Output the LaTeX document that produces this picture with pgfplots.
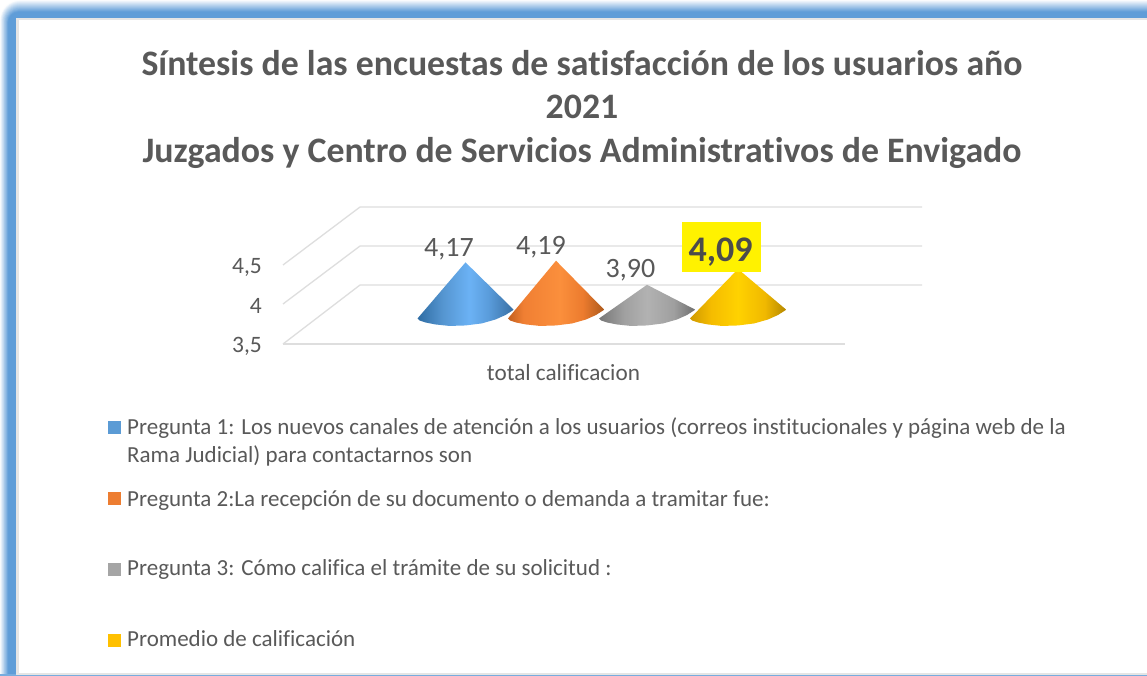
\documentclass[border=0pt]{standalone}
\usepackage{pgfplots}
\usepackage{fontspec}
\setmainfont[Ligatures=NoCommon]{Carlito}
\pgfplotsset{compat=1.18}
\definecolor{txt}{HTML}{595959}
\definecolor{framec}{HTML}{5F9DD8}
\definecolor{gridc}{HTML}{DEDEDE}
\definecolor{ba}{HTML}{2E6CA3}\definecolor{bb}{HTML}{5595D0}\definecolor{bc}{HTML}{6BB2F5}\definecolor{bd}{HTML}{5A9CDB}\definecolor{be}{HTML}{386FA3}
\definecolor{oa}{HTML}{C25F1E}\definecolor{ob}{HTML}{F07F33}\definecolor{oc}{HTML}{FB8F3C}\definecolor{od}{HTML}{EC7B2E}\definecolor{oe}{HTML}{AD5A1C}
\definecolor{ga}{HTML}{777777}\definecolor{gb}{HTML}{A0A0A0}\definecolor{gc}{HTML}{B2B2B2}\definecolor{gd}{HTML}{9F9F9F}\definecolor{ge}{HTML}{6E6E6E}
\definecolor{ya}{HTML}{D09A00}\definecolor{yb}{HTML}{F5BC00}\definecolor{yc}{HTML}{FFD200}\definecolor{yd}{HTML}{F0B800}\definecolor{ye}{HTML}{B58800}
\definecolor{lgb}{HTML}{5B9BD5}\definecolor{lgo}{HTML}{ED7D31}\definecolor{lgg}{HTML}{A5A5A5}\definecolor{lgy}{HTML}{FFC000}
\pgfdeclarehorizontalshading{coneblue}{100bp}{color(0bp)=(ba);color(25bp)=(ba);color(38bp)=(bb);color(52bp)=(bc);color(62bp)=(bd);color(75bp)=(be);color(100bp)=(be)}
\pgfdeclarehorizontalshading{coneorange}{100bp}{color(0bp)=(oa);color(25bp)=(oa);color(33bp)=(ob);color(52bp)=(oc);color(64bp)=(od);color(75bp)=(oe);color(100bp)=(oe)}
\pgfdeclarehorizontalshading{conegray}{100bp}{color(0bp)=(ga);color(25bp)=(ga);color(38bp)=(gb);color(50bp)=(gc);color(64bp)=(gd);color(75bp)=(ge);color(100bp)=(ge)}
\pgfdeclarehorizontalshading{conegold}{100bp}{color(0bp)=(ya);color(25bp)=(ya);color(36bp)=(yb);color(50bp)=(yc);color(64bp)=(yd);color(75bp)=(ye);color(100bp)=(ye)}
\pgfplotsset{base/.style={at={(0,0)},anchor=south west,width=1147pt,height=676pt,scale only axis,hide axis,xmin=0,xmax=1147,clip=true},
 px/.style={base,ymin=0,ymax=676,y dir=reverse}}
\newcommand{\fs}[1]{\fontsize{#1}{#1}\selectfont}
\begin{document}
\begin{tikzpicture}
% frame and grid, in pixel coordinates
\begin{axis}[px]
\fill[white] (axis cs:0,0) rectangle (axis cs:1147,676);
\foreach \i in {0,...,12}{
  \pgfmathsetmacro\pct{min(100,\i*8.5+2)}
  \pgfmathsetmacro\a{\i*0.7}
  \pgfmathsetmacro\b{\i*1.0}
  \pgfmathsetmacro\r{20-\i*0.8}
  \edef\tmp{\noexpand\fill[framec!\pct!white,rounded corners=\r pt] (axis cs:\a,\b) rectangle (axis cs:1180,700);}
  \tmp
}
\fill[framec!85!white] (axis cs:0,674) rectangle (axis cs:1147,676);
\fill[white!80!gray] (axis cs:16,18) rectangle (axis cs:1180,675);
\fill[white] (axis cs:18.5,20.5) rectangle (axis cs:1180,672.5);
\addplot[gridc,line width=1.3pt] coordinates {(283,344)(360,285)(922,285)};
\addplot[gridc,line width=1.3pt] coordinates {(283,304)(360,246)(922,246)};
\addplot[gridc,line width=1.3pt] coordinates {(283,265)(360,207)(922,207)};
\addplot[gridc,line width=1.3pt] coordinates {(283,344)(845,344)};
\end{axis}
% cones, y in the chart's values
\begin{axis}[base,ymin=-0.8133,ymax=7.3313]
\addplot[draw=none,shading=coneblue] coordinates {(465.5,4.17)(513.5,3.602)(512.5,3.590)(505.5,3.536)(495.5,3.482)(481.5,3.434)(465.5,3.410)(449.5,3.404)(435.5,3.422)(425.5,3.446)(419.5,3.470)(417.5,3.494)} --cycle;
\addplot[draw=none,shading=coneorange] coordinates {(556,4.19)(604,3.602)(603,3.590)(596,3.536)(586,3.482)(572,3.434)(556,3.410)(540,3.404)(526,3.422)(516,3.446)(510,3.470)(508,3.494)} --cycle;
\addplot[draw=none,shading=conegray] coordinates {(647,3.90)(695,3.602)(694,3.590)(687,3.536)(677,3.482)(663,3.434)(647,3.410)(631,3.404)(617,3.422)(607,3.446)(601,3.470)(599,3.494)} --cycle;
\addplot[draw=none,shading=conegold] coordinates {(738,4.09)(786,3.602)(785,3.590)(778,3.536)(768,3.482)(754,3.434)(738,3.410)(722,3.404)(708,3.422)(698,3.446)(692,3.470)(690,3.494)} --cycle;
\end{axis}
% text and legend, in pixel coordinates
\begin{axis}[px]
\fill[yellow] (axis cs:682,222) rectangle (axis cs:761,272);
\node[font=\fs{36}\bfseries,text=txt!85!black,anchor=base,inner sep=0] at (axis cs:720.5,261.5) {4,09};
\node[font=\fs{28},text=txt,anchor=base,inner sep=0] at (axis cs:449,257) {4,17};
\node[font=\fs{28},text=txt,anchor=base,inner sep=0] at (axis cs:541,255) {4,19};
\node[font=\fs{28},text=txt,anchor=base,inner sep=0] at (axis cs:630.5,278) {3,90};
\node[font=\fs{35.8}\bfseries,text=txt,anchor=base,inner sep=0] at (axis cs:582,75.5) {Síntesis de las encuestas de satisfacción de los usuarios año};
\node[font=\fs{35.8}\bfseries,text=txt,anchor=base,inner sep=0] at (axis cs:582,118.5) {2021};
\node[font=\fs{35.8}\bfseries,text=txt,anchor=base,inner sep=0] at (axis cs:582,163) {Juzgados y Centro de Servicios Administrativos de Envigado};
\node[font=\fs{23.5},text=txt,anchor=base east,inner sep=0] at (axis cs:262,274) {4,5};
\node[font=\fs{23.5},text=txt,anchor=base east,inner sep=0] at (axis cs:262,313) {4};
\node[font=\fs{23.5},text=txt,anchor=base east,inner sep=0] at (axis cs:262,352) {3,5};
\node[font=\fs{23.2},text=txt,anchor=base,inner sep=0] at (axis cs:563.5,380) {total calificacion};
\addplot[only marks,mark=square*,mark size=6pt,mark options={fill=lgb,draw=lgb,line width=0pt}] coordinates {(114,427)};
\addplot[only marks,mark=square*,mark size=6pt,mark options={fill=lgo,draw=lgo,line width=0pt}] coordinates {(114,498)};
\addplot[only marks,mark=square*,mark size=6pt,mark options={fill=lgg,draw=lgg,line width=0pt}] coordinates {(114,569)};
\addplot[only marks,mark=square*,mark size=6pt,mark options={fill=lgy,draw=lgy,line width=0pt}] coordinates {(114,640)};
\node[font=\fs{23},text=txt,anchor=base west,inner sep=0] at (axis cs:127,434.5) {Pregunta 1: Los nuevos canales de atención a los usuarios (correos institucionales y página web de la};
\node[font=\fs{23},text=txt,anchor=base west,inner sep=0] at (axis cs:127,462.5) {Rama Judicial) para contactarnos son};
\node[font=\fs{23},text=txt,anchor=base west,inner sep=0] at (axis cs:127,506) {Pregunta 2:La recepción de su documento o demanda a tramitar fue:};
\node[font=\fs{23},text=txt,anchor=base west,inner sep=0] at (axis cs:127,575) {Pregunta 3: Cómo califica el trámite de su solicitud :};
\node[font=\fs{23},text=txt,anchor=base west,inner sep=0] at (axis cs:127,646) {Promedio de calificación};
\end{axis}
\end{tikzpicture}
\end{document}
